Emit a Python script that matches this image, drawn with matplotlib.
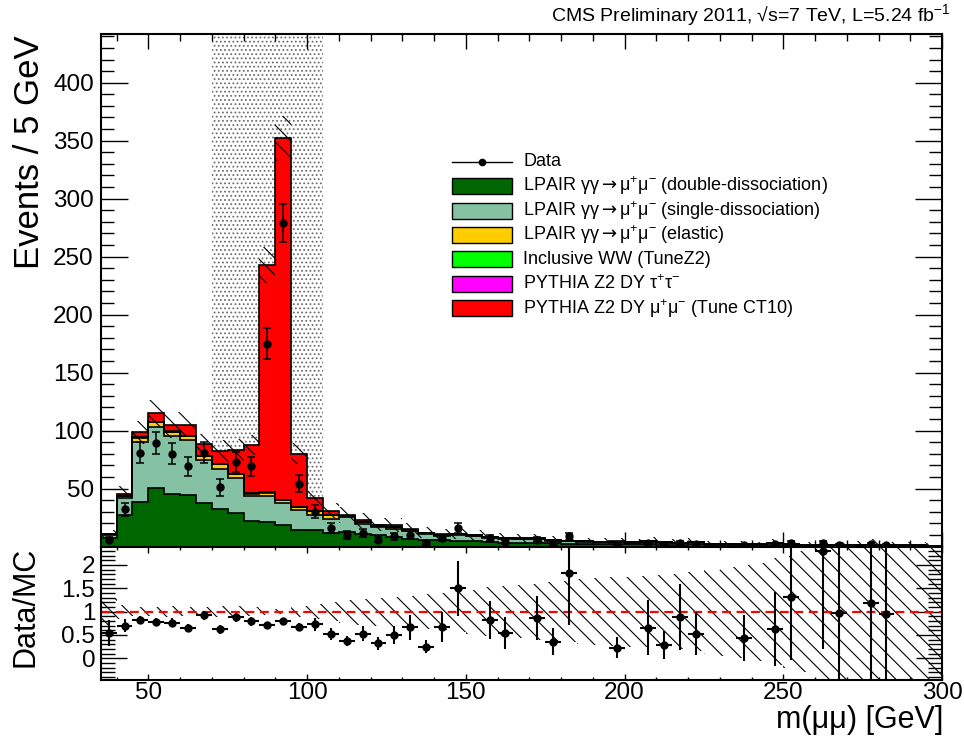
import numpy as np
import matplotlib
matplotlib.use('Agg')
import matplotlib.pyplot as plt
import matplotlib.ticker as ticker
from matplotlib.patches import Rectangle
from matplotlib.lines import Line2D

plt.rcParams['font.family'] = ['Liberation Sans', 'DejaVu Sans']
plt.rcParams['mathtext.fontset'] = 'custom'
plt.rcParams['mathtext.rm'] = 'Liberation Sans'
plt.rcParams['mathtext.it'] = 'Liberation Sans:italic'
plt.rcParams['mathtext.bf'] = 'Liberation Sans:bold'
plt.rcParams['mathtext.sf'] = 'DejaVu Sans'
plt.rcParams['hatch.linewidth'] = 0.8
plt.rcParams['hatch.color'] = 'black'

# 5 GeV bins from 35 to 300 GeV
edges = np.arange(35, 305, 5)
centers = 0.5 * (edges[:-1] + edges[1:])

# Z window excluded from the selection
z_window = (70, 105)

# MC expectation per bin (events)
lpair_dd = np.array([
    7.7, 27.0, 38.4, 50.5, 45.7, 44.2, 37.9, 32.7, 29.0, 22.0,
    21.2, 18.3, 14.6, 14.0, 12.0, 12.5, 10.5, 9.7, 8.2, 6.5,
    6.0, 5.4, 5.0, 4.5, 4.0, 3.4, 3.3, 3.3, 2.7, 2.3,
    2.1, 2.0, 2.0, 1.8, 2.1, 1.7, 1.6, 1.8, 1.2, 1.1,
    1.1, 0.9, 1.5, 1.1, 0.75, 0.6, 0.5, 0.55, 0.8, 0.5,
    0.47, 0.42, 0.38])
lpair_sd = np.array([
    2.3, 14.9, 51.8, 52.2, 49.5, 47.5, 36.5, 34.5, 30.5, 21.4,
    22.4, 19.3, 17.2, 13.5, 12.1, 13.0, 9.3, 7.1, 6.7, 6.6,
    4.6, 3.9, 4.6, 4.3, 3.75, 3.25, 3.05, 3.05, 2.45, 2.1,
    1.95, 1.75, 1.9, 1.6, 2.1, 1.55, 1.45, 1.65, 1.05, 1.0,
    1.0, 0.9, 1.45, 1.0, 0.7, 0.55, 0.43, 0.54, 0.77, 0.45,
    0.43, 0.39, 0.34])
lpair_el = np.array([
    0.4, 1.5, 3.8, 4.3, 3.7, 3.5, 3.5, 3.8, 2.6, 2.3,
    2.9, 2.3, 2.3, 2.9, 2.8, 1.0, 1.5, 1.2, 1.6, 1.0,
    0.9, 0.8, 0.8, 0.6, 0.6, 0.5, 0.5, 0.5, 0.4, 0.35,
    0.3, 0.3, 0.3, 0.25, 0.3, 0.25, 0.25, 0.25, 0.2, 0.15,
    0.15, 0.15, 0.2, 0.15, 0.1, 0.1, 0.08, 0.08, 0.1, 0.07,
    0.07, 0.06, 0.05])
incl_ww = np.array([
    0.05, 0.1, 0.1, 0.1, 0.1, 0.1, 0.1, 0.1, 0.1, 0.1,
    0.1, 0.1, 0.1, 0.1, 0.1, 0.1, 0.1, 0.1, 0.1, 0.1,
    0.1, 0.1, 0.1, 0.15, 0.1, 0.1, 0.1, 0.1, 0.1, 0.1,
    0.1, 0.1, 0.1, 0.1, 0.05, 0.05, 0.05, 0.05, 0.05, 0.05,
    0.05, 0.05, 0.05, 0.05, 0.05, 0.05, 0.03, 0.03, 0.03, 0.03,
    0.03, 0.03, 0.03])
dy_tautau = np.array([
    0.1, 0.2, 0.3, 0.3, 0.3, 0.3, 0.3, 0.3, 0.3, 0.3,
    0.3, 0.3, 0.2, 0.2, 0.2, 0.1, 0.1, 0.1, 0.1, 0.1,
    0.05, 0.05, 0.05, 0.05, 0, 0, 0, 0, 0, 0,
    0, 0, 0, 0, 0, 0, 0, 0, 0, 0,
    0, 0, 0, 0, 0, 0, 0, 0, 0, 0,
    0, 0, 0])
dy_mumu = np.array([
    0.55, 2.0, 4.0, 7.4, 5.4, 9.1, 9.7, 10.8, 20.6, 41.3,
    195.9, 311.9, 45.8, 10.7, 3.8, 0.8, 1.1, 0.7, 1.6, 0.7,
    0.35, 0.25, 0.15, 0.1, 0.05, 0.05, 0.05, 0.05, 0.05, 0.05,
    0.05, 0.05, 0.05, 0.05, 0.05, 0.05, 0.05, 0.05, 0, 0,
    0, 0, 0, 0, 0, 0, 0, 0, 0, 0,
    0, 0, 0])

# relative uncertainty on the MC sum
mc_unc = np.array([
    0.30, 0.15, 0.10, 0.10, 0.11, 0.10, 0.10, 0.12, 0.12, 0.10,
    0.065, 0.055, 0.11, 0.16, 0.20, 0.25, 0.28, 0.30, 0.32, 0.34,
    0.37, 0.40, 0.43, 0.47, 0.52, 0.55, 0.57, 0.60, 0.63, 0.66,
    0.69, 0.72, 0.74, 0.75, 0.76, 0.78, 0.80, 0.85, 0.90, 0.95,
    1.00, 1.05, 1.15, 1.20, 1.30, 1.50, 3.0, 3.0, 3.0, 3.0,
    3.0, 3.0, 3.0])

# observed events
data = np.array([
    6, 32, 81, 89, 80, 69, 81, 51, 73, 69,
    175, 279, 54, 30, 16, 10, 12, 6, 9, 10,
    3, 7, 16, 0, 7, 4, 0, 6, 2, 9,
    0, 0, 1, 0, 3, 1, 3, 2, 0, 0,
    1, 0, 2, 3, 0, 3, 1, 0, 2, 1,
    0, 0, 0])

# uncertainty on data/MC (data stat + MC stat)
ratio_err = np.array([
    0.27, 0.14, 0.08, 0.08, 0.09, 0.08, 0.10, 0.09, 0.10, 0.10,
    0.06, 0.05, 0.09, 0.13, 0.13, 0.11, 0.16, 0.13, 0.19, 0.27,
    0.14, 0.32, 0.58, 0, 0.41, 0.34, 0, 0.47, 0.29, 1.12,
    0, 0, 0.23, 0, 0.59, 0.30, 0.70, 0.46, 0, 0,
    0.50, 0, 0.80, 1.35, 0, 2.10, 1.50, 0, 1.70, 1.60,
    0, 0, 0])

layers = [lpair_dd, lpair_sd, lpair_el, incl_ww, dy_tautau, dy_mumu]
colors = ['#006600', '#85c2a3', '#ffcc00', '#00ff00', '#ff00ff', '#ff0000']
arrow = r'$\mathsf{\rightarrow}$'
labels = [
    'LPAIR γγ' + arrow + 'μ$^{+}$μ$^{-}$ (double-dissociation)',
    'LPAIR γγ' + arrow + 'μ$^{+}$μ$^{-}$ (single-dissociation)',
    'LPAIR γγ' + arrow + 'μ$^{+}$μ$^{-}$ (elastic)',
    'Inclusive WW (TuneZ2)',
    'PYTHIA Z2 DY τ$^{+}$τ$^{-}$',
    'PYTHIA Z2 DY μ$^{+}$μ$^{-}$ (Tune CT10)',
]

mc_total = np.sum(layers, axis=0)
has_data = data > 0
ratio = data / mc_total

W, H = 964, 740
fig = plt.figure(figsize=(W / 100, H / 100), dpi=100)
left, right = 100.7, 942.0
ax = fig.add_axes([left / W, 1 - 546.5 / H, (right - left) / W, (546.5 - 34) / H])
rax = fig.add_axes([left / W, 1 - 679.5 / H, (right - left) / W, 133 / H])

# ---- main panel ----
ax.axvspan(*z_window, facecolor='none', edgecolor='#6e6e6e', hatch='....',
           lw=0, zorder=0.5)

bottom = np.zeros(len(centers))
for vals, col in zip(layers, colors):
    top = bottom + vals
    ax.stairs(top, edges, baseline=bottom, fill=True, color=col, lw=0, zorder=2)
    bottom = top
for cum in np.cumsum(layers, axis=0):
    ax.stairs(cum, edges, baseline=None, color='black', lw=1.2, zorder=3)

ax.stairs(mc_total * (1 + mc_unc), edges, baseline=mc_total * (1 - mc_unc),
          fill=True, facecolor='none', edgecolor='black', hatch='\\\\',
          lw=0, zorder=4)

ax.errorbar(centers[has_data], data[has_data], yerr=np.sqrt(data[has_data]),
            fmt='o', color='black', ms=5, elinewidth=1.1, capsize=3,
            capthick=1.1, zorder=5)

ax.set_xlim(35, 300)
ax.set_ylim(0, 442)
ax.xaxis.set_major_locator(ticker.MultipleLocator(50))
ax.xaxis.set_minor_locator(ticker.MultipleLocator(10))
ax.yaxis.set_major_locator(ticker.MultipleLocator(50))
ax.yaxis.set_minor_locator(ticker.MultipleLocator(10))
ax.yaxis.set_major_formatter(
    ticker.FuncFormatter(lambda v, p: '' if v == 0 else f'{v:g}'))
ax.tick_params(which='both', direction='in', top=True, right=True,
               labelbottom=False, labelsize=17.5, pad=5, width=1)
ax.tick_params(axis='x', which='major', length=10.8)
ax.tick_params(axis='x', which='minor', length=5)
ax.tick_params(axis='y', which='major', length=19.5)
ax.tick_params(axis='y', which='minor', length=9.5)

# legend drawn by hand in axes coordinates
lx0, lx1, ltx = 0.4172, 0.4885, 0.5023
ly0, ldy, lbh = 0.7508, 0.04767, 0.0312
ax.add_line(Line2D([lx0, lx1], [ly0, ly0], transform=ax.transAxes,
                   color='black', lw=1, zorder=6))
ax.plot([(lx0 + lx1) / 2], [ly0], 'o', color='black', ms=4.5,
        transform=ax.transAxes, zorder=6)
ax.text(ltx, ly0, 'Data', transform=ax.transAxes, fontsize=13,
        va='center', ha='left', zorder=6)
for i, (col, lab) in enumerate(zip(colors, labels)):
    y = ly0 - (i + 1) * ldy
    ax.add_patch(Rectangle((lx0, y - lbh / 2), lx1 - lx0, lbh,
                           transform=ax.transAxes, facecolor=col,
                           edgecolor='black', lw=1, zorder=6))
    ax.text(ltx, y, lab, transform=ax.transAxes, fontsize=13,
            va='center', ha='left', zorder=6)

# ---- ratio panel ----
rax.stairs(1 + mc_unc, edges, baseline=1 - mc_unc, fill=True,
           facecolor='none', edgecolor='black', hatch='\\\\', lw=0, zorder=1)
rax.axhline(1, color='red', ls=(0, (4, 2.5)), lw=1.6, zorder=2)
rax.errorbar(centers[has_data], ratio[has_data], xerr=2.5,
             yerr=ratio_err[has_data], fmt='o', color='black', ms=5,
             elinewidth=1.5, capsize=0, zorder=3)

rax.set_xlim(35, 300)
rax.set_ylim(-0.454, 2.394)
rax.xaxis.set_major_locator(ticker.MultipleLocator(50))
rax.xaxis.set_minor_locator(ticker.MultipleLocator(10))
rax.yaxis.set_major_locator(ticker.MultipleLocator(0.5))
rax.yaxis.set_minor_locator(ticker.MultipleLocator(0.1))
rax.yaxis.set_major_formatter(ticker.FuncFormatter(lambda v, p: f'{v:g}'))
rax.tick_params(which='both', direction='in', top=True, right=True,
                labelsize=17.5, width=1)
rax.tick_params(axis='x', which='major', length=4, pad=2)
rax.tick_params(axis='x', which='minor', length=2.5)
rax.tick_params(axis='y', which='major', length=19, pad=4)
rax.tick_params(axis='y', which='minor', length=10)

for a in (ax, rax):
    for s in a.spines.values():
        s.set_linewidth(1.5)
        s.set_zorder(10)

# axis titles and header
fig.text(30 / W, 1 - 35 / H, 'Events / 5 GeV', rotation=90, ha='center',
         va='top', fontsize=25)
fig.text(25 / W, 1 - 607 / H, 'Data/MC', rotation=90, ha='center',
         va='center', fontsize=22)
fig.text(943 / W, 1 - 728 / H, 'm(μμ) [GeV]', ha='right', va='baseline',
         fontsize=22)
fig.text(950 / W, 1 - 15 / H, 'CMS Preliminary 2011, √s=7 TeV, L=5.24 fb$^{-1}$',
         ha='right', va='center', fontsize=14)

fig.savefig('out.png', dpi=100)
